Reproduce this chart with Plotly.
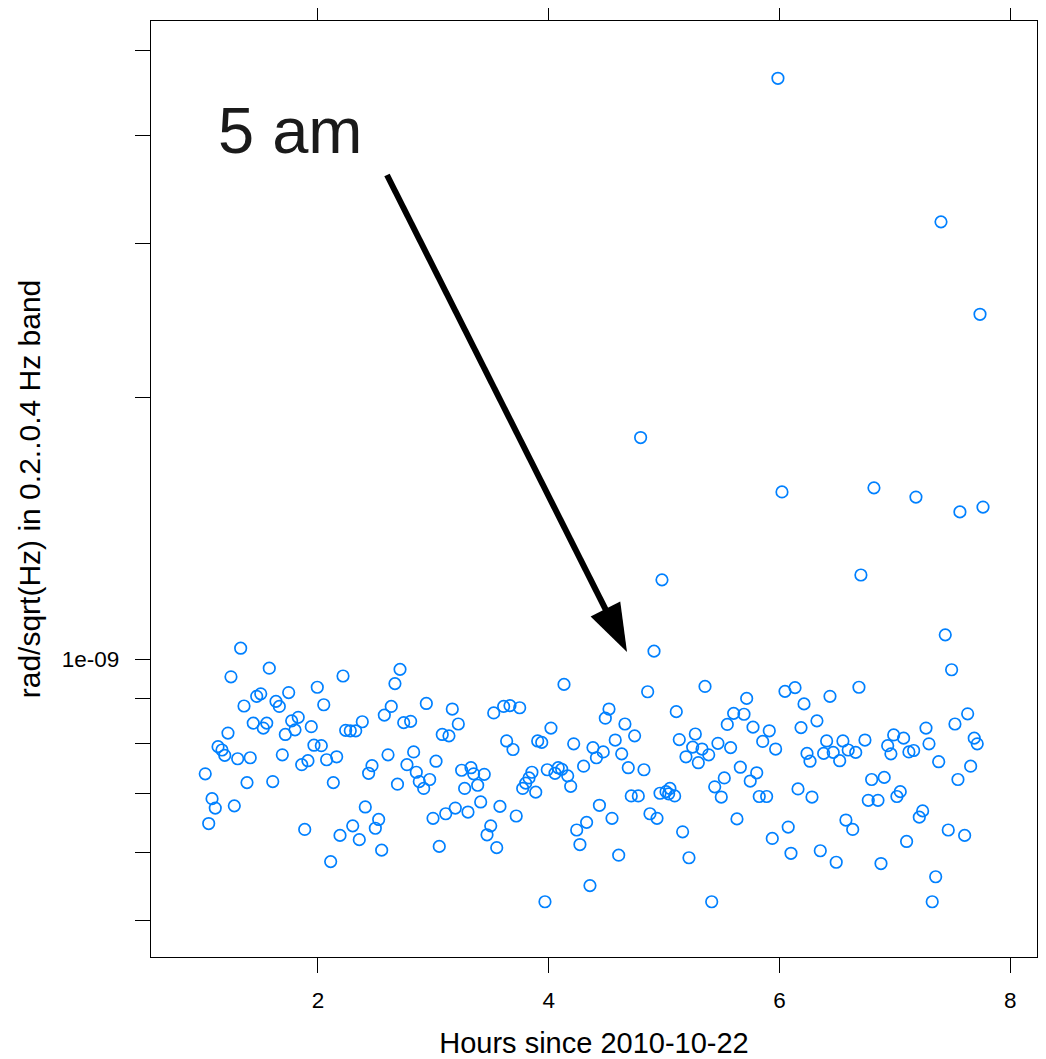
import math
import plotly.graph_objects as go

# ---- data (hours since 2010-10-22, value in units of 1e-10 rad/sqrt(Hz)) ----
hours = [
    1.023, 1.053, 1.082, 1.110, 1.134, 1.168, 1.192, 1.220, 1.246, 1.275,
    1.304, 1.330, 1.359, 1.385, 1.413, 1.439, 1.469, 1.504, 1.526, 1.556,
    1.578, 1.608, 1.636, 1.665, 1.691, 1.717, 1.746, 1.772, 1.801, 1.829,
    1.859, 1.885, 1.913, 1.942, 1.965, 1.994, 2.029, 2.050, 2.075, 2.110,
    2.133, 2.162, 2.191, 2.217, 2.240, 2.280, 2.301, 2.327, 2.358, 2.384,
    2.410, 2.439, 2.468, 2.497, 2.526, 2.552, 2.575, 2.607, 2.635, 2.667,
    2.689, 2.711, 2.743, 2.771, 2.803, 2.829, 2.852, 2.878, 2.916, 2.939,
    2.968, 2.997, 3.023, 3.051, 3.077, 3.107, 3.135, 3.164, 3.190, 3.216,
    3.245, 3.271, 3.300, 3.326, 3.349, 3.384, 3.410, 3.441, 3.465, 3.497,
    3.523, 3.549, 3.577, 3.609, 3.635, 3.664, 3.690, 3.718, 3.748, 3.774,
    3.800, 3.829, 3.854, 3.887, 3.904, 3.939, 3.967, 3.987, 4.019, 4.054,
    4.082, 4.112, 4.132, 4.164, 4.190, 4.216, 4.242, 4.270, 4.302, 4.328,
    4.357, 4.383, 4.413, 4.439, 4.472, 4.490, 4.522, 4.548, 4.576, 4.606,
    4.632, 4.660, 4.689, 4.715, 4.744, 4.776, 4.796, 4.825, 4.857, 4.877,
    4.912, 4.938, 4.964, 4.981, 5.016, 5.039, 5.050, 5.091, 5.105, 5.131,
    5.160, 5.189, 5.215, 5.247, 5.270, 5.296, 5.328, 5.354, 5.386, 5.412,
    5.438, 5.466, 5.495, 5.521, 5.547, 5.576, 5.602, 5.631, 5.660, 5.692,
    5.715, 5.746, 5.770, 5.802, 5.824, 5.854, 5.888, 5.911, 5.937, 5.966,
    5.986, 6.021, 6.047, 6.075, 6.099, 6.134, 6.160, 6.186, 6.212, 6.238,
    6.264, 6.281, 6.324, 6.353, 6.382, 6.408, 6.437, 6.465, 6.491, 6.521,
    6.549, 6.575, 6.595, 6.634, 6.660, 6.688, 6.705, 6.740, 6.769, 6.798,
    6.818, 6.853, 6.879, 6.907, 6.937, 6.965, 6.989, 7.017, 7.046, 7.075,
    7.101, 7.121, 7.162, 7.182, 7.211, 7.240, 7.269, 7.295, 7.323, 7.353,
    7.379, 7.399, 7.436, 7.462, 7.491, 7.520, 7.546, 7.563, 7.604, 7.630,
    7.656, 7.687, 7.713, 7.737, 7.763,
]

band_e10 = [
    7.38, 6.47, 6.91, 6.74, 7.93, 7.86, 7.75, 8.22, 9.54, 6.78,
    7.68, 10.29, 8.83, 7.21, 7.70, 8.44, 9.06, 9.12, 8.33, 8.44,
    9.76, 7.23, 8.94, 8.82, 7.76, 8.19, 9.15, 8.49, 8.29, 8.57,
    7.56, 6.37, 7.64, 8.36, 7.96, 9.28, 7.95, 8.86, 7.66, 5.85,
    7.21, 7.72, 6.27, 9.56, 8.28, 8.27, 6.43, 8.27, 6.20, 8.47,
    6.76, 7.39, 7.54, 6.39, 6.54, 6.03, 8.62, 7.76, 8.82, 9.37,
    7.18, 9.73, 8.45, 7.56, 8.48, 7.82, 7.41, 7.23, 7.10, 8.89,
    7.27, 6.56, 7.63, 6.09, 8.19, 6.64, 8.16, 8.76, 6.74, 8.42,
    7.45, 7.10, 6.67, 7.50, 7.38, 7.16, 6.85, 7.37, 6.28, 6.43,
    8.67, 6.07, 6.77, 8.82, 8.05, 8.84, 7.87, 6.60, 8.79, 7.10,
    7.20, 7.30, 7.41, 7.03, 8.05, 8.02, 5.26, 7.46, 8.33, 7.39,
    7.50, 7.47, 9.35, 7.34, 7.14, 7.99, 6.36, 6.12, 7.53, 6.49,
    5.49, 7.91, 7.70, 6.79, 7.82, 8.55, 8.76, 6.56, 8.07, 5.95,
    7.78, 8.42, 7.50, 6.96, 8.16, 6.96, 17.97, 7.46, 9.17, 6.64,
    10.21, 6.56, 7.01, 12.33, 7.04, 7.00, 7.10, 6.96, 8.70, 8.08,
    6.33, 7.72, 5.91, 7.92, 8.20, 7.60, 7.88, 9.30, 7.76, 5.26,
    7.13, 8.00, 6.94, 7.30, 8.41, 7.91, 8.66, 6.55, 7.51, 8.64,
    9.01, 7.24, 8.35, 7.40, 6.95, 8.04, 6.95, 8.27, 6.22, 7.88,
    46.5, 15.56, 9.18, 6.41, 5.98, 9.27, 7.09, 8.34, 8.88, 7.79,
    7.63, 6.94, 8.49, 6.02, 7.79, 8.05, 9.06, 7.81, 5.84, 7.64,
    8.05, 6.53, 7.86, 6.37, 7.81, 9.28, 12.49, 8.07, 6.88, 7.27,
    15.73, 6.88, 5.82, 7.31, 7.95, 7.78, 8.18, 6.95, 7.04, 8.11,
    6.17, 7.82, 7.85, 15.35, 6.58, 6.69, 8.33, 7.99, 5.26, 5.62,
    7.62, 31.8, 10.66, 6.36, 9.72, 8.42, 7.27, 14.76, 6.27, 8.65,
    7.53, 8.11, 7.99, 24.9, 14.95,
]
assert len(hours) == len(band_e10), (len(hours), len(band_e10))
band_values = [v * 1e-10 for v in band_e10]

x_tick_vals = [2, 4, 6, 8]
x_tick_text = ["2", "4", "6", "8"]
y_tick_vals = [5e-10, 6e-10, 7e-10, 8e-10, 9e-10, 1e-9, 2e-9, 3e-9, 4e-9, 5e-9]
y_tick_text = ["", "", "", "", "", "1e-09", "", "", "", ""]

x_title = "Hours since 2010-10-22"
y_title = "rad/sqrt(Hz) in 0.2..0.4 Hz band"
note_text = "5 am"
note_pos = (1.766, 4.045e-9)
arrow_from = (2.598, 3.60e-9)
arrow_to = (4.678, 1.019e-9)

# ---- layout geometry (page body has an 8px offset) ----
OFF = 8
FIG_W, FIG_H = 1046 - OFF, 1059 - OFF
M_L, M_R, M_T, M_B = 151 - OFF, 9, 21 - OFF, 102
PW, PH = FIG_W - M_L - M_R, FIG_H - M_T - M_B
X_RANGE = [0.553, 8.231]
Y_RANGE = [-9.3425, -8.2667]
FONT = "Arial, 'Liberation Sans', Helvetica, sans-serif"


def to_px(x, y):
    px = (x - X_RANGE[0]) / (X_RANGE[1] - X_RANGE[0]) * PW
    py = (math.log10(y) - Y_RANGE[0]) / (Y_RANGE[1] - Y_RANGE[0]) * PH
    return px, py


def to_paper(px, py):
    return px / PW, py / PH


fig = go.Figure()
fig.add_trace(go.Scatter(
    x=hours, y=band_values, mode="markers",
    marker=dict(symbol="circle-open", size=11.5, color="#0080ff",
                line=dict(width=1.7, color="#0080ff")),
    showlegend=False, hoverinfo="x+y",
))

# arrow: shaft + slender head
sx, sy = to_px(*arrow_from)
tx, ty = to_px(*arrow_to)
L = math.hypot(tx - sx, ty - sy)
ux, uy = (tx - sx) / L, (ty - sy) / L
nx, ny = -uy, ux
head_len, head_half = 48, 16.6
bx, by = tx - head_len * ux, ty - head_len * uy
ex, ey = tx - (head_len - 4) * ux, ty - (head_len - 4) * uy
p_s = to_paper(sx, sy)
p_e = to_paper(ex, ey)
fig.add_shape(type="line", xref="paper", yref="paper",
              x0=p_s[0], y0=p_s[1], x1=p_e[0], y1=p_e[1],
              line=dict(color="black", width=6))
c1 = to_paper(bx + head_half * nx, by + head_half * ny)
c2 = to_paper(bx - head_half * nx, by - head_half * ny)
tp = to_paper(tx, ty)
path = "M {:.5f},{:.5f} L {:.5f},{:.5f} L {:.5f},{:.5f} Z".format(
    tp[0], tp[1], c1[0], c1[1], c2[0], c2[1])
fig.add_shape(type="path", xref="paper", yref="paper", path=path,
              fillcolor="black", line=dict(color="black", width=0))

fig.add_annotation(x=note_pos[0], y=math.log10(note_pos[1]), xref="x", yref="y",
                   text=note_text, showarrow=False, xanchor="center", yanchor="middle",
                   font=dict(family=FONT, size=65, color="#1a1a1a"))

axis_common = dict(
    showgrid=False, zeroline=False, showline=True, mirror="ticks",
    linecolor="black", linewidth=1.3, ticks="outside", ticklen=15,
    tickwidth=1.3, tickcolor="black", automargin=False,
    tickfont=dict(family=FONT, size=22.5, color="black"),
)

fig.update_xaxes(
    range=X_RANGE, tickvals=x_tick_vals, ticktext=x_tick_text,
    ticklabelstandoff=8,
    title=dict(text=x_title, standoff=22, font=dict(family=FONT, size=29, color="black")),
    **axis_common,
)
fig.update_yaxes(
    type="log", range=Y_RANGE, tickvals=y_tick_vals, ticktext=y_tick_text,
    ticklabelstandoff=11,
    title=dict(text=y_title, standoff=12, font=dict(family=FONT, size=30, color="black")),
    **axis_common,
)

fig.update_layout(
    width=FIG_W, height=FIG_H, template="none",
    margin=dict(l=M_L, r=M_R, t=M_T, b=M_B, pad=0),
    plot_bgcolor="white", paper_bgcolor="white",
    font=dict(family=FONT, color="black"),
    showlegend=False,
)

fig.write_html("out.html")
